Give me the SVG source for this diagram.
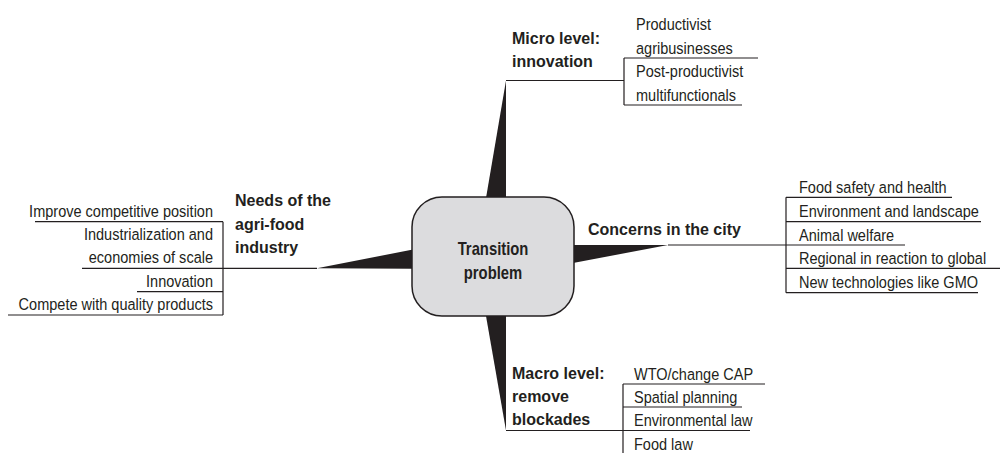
<svg xmlns="http://www.w3.org/2000/svg" width="1002" height="453" viewBox="0 0 1002 453">
  <style>
    .hub{fill:#dcdcde;stroke:#231f20;stroke-width:1.5}
    .hubtxt{font-family:"Liberation Sans",Arial,sans-serif;font-weight:bold;font-size:18.5px;fill:#231f20;text-anchor:middle}
    .lbl{font-family:"Liberation Sans",Arial,sans-serif;font-weight:bold;font-size:16px;fill:#231f20}
    .item{font-family:"Liberation Sans",Arial,sans-serif;font-size:16.5px;fill:#231f20}
    .r{text-anchor:end}
    .wedge{fill:#231f20}
    .ln{stroke:#231f20;stroke-width:1.2;fill:none}
  </style>
  <rect width="1002" height="453" fill="#ffffff"/>

  <!-- connectors: tapered spokes and bracket lines -->
  <g id="connectors">
    <path class="wedge" d="M506,80.5 L486,198 L506,198 Z"/>
    <path class="wedge" d="M486,316 L506,316 L506,430.5 Z"/>
    <path class="wedge" d="M317,268.3 L413,249.5 L413,268.8 Z"/>
    <path class="wedge" d="M668,245 L573,245 L573,263 Z"/>
    <!-- micro level -->
    <path class="ln" d="M506,80.5 H624 M624,58 V105 M624,58 H758 M624,105 H742"/>
    <!-- agri-food industry -->
    <path class="ln" d="M317,268.3 H82 M223,221.7 V315 M35,221.7 H223 M137,291.7 H223 M8,315 H223"/>
    <!-- concerns in the city -->
    <path class="ln" d="M668,245 H905 M786,197.3 V292.7 M786,197.3 H952 M786,221.7 H981 M786,268.3 H1000 M786,292.7 H978"/>
    <!-- macro level -->
    <path class="ln" d="M506,430.5 H750 M623,384 V453 M623,384 H765 M623,407 H742"/>
  </g>

  <g id="hub">
    <rect class="hub" x="412" y="197" width="162" height="119" rx="30" ry="30"/>
    <!-- narrow set: glyphs squeezed horizontally -->
    <text class="hubtxt" transform="matrix(0.8 0 0 1 493 255)">Transition</text>
    <text class="hubtxt" transform="matrix(0.8 0 0 1 493 278.5)">problem</text>
  </g>

  <g id="micro">
    <text class="lbl" x="512" y="43.5">Micro level:</text>
    <text class="lbl" x="512" y="66.5">innovation</text>
  </g>
  <g id="micro-items">
    <g id="productivist">
      <text class="item" transform="matrix(0.88 0 0 1 636 30)">Productivist</text>
      <text class="item" transform="matrix(0.88 0 0 1 636 53.5)">agribusinesses</text>
    </g>
    <g id="post-productivist">
      <text class="item" transform="matrix(0.88 0 0 1 636 77)">Post-productivist</text>
      <text class="item" transform="matrix(0.88 0 0 1 636 100.5)">multifunctionals</text>
    </g>
  </g>

  <g id="needs">
    <text class="lbl" x="235" y="206">Needs of the</text>
    <text class="lbl" x="235" y="229.5">agri-food</text>
    <text class="lbl" x="235" y="253">industry</text>
  </g>
  <g id="needs-items">
    <g id="competitive"><text class="item r" transform="matrix(0.88 0 0 1 213 216.7)">Improve competitive position</text></g>
    <g id="industrialization">
      <text class="item r" transform="matrix(0.88 0 0 1 213 239.5)">Industrialization and</text>
      <text class="item r" transform="matrix(0.88 0 0 1 213 263)">economies of scale</text>
    </g>
    <g id="innovation"><text class="item r" transform="matrix(0.88 0 0 1 213 286.5)">Innovation</text></g>
    <g id="quality"><text class="item r" transform="matrix(0.88 0 0 1 213 310)">Compete with quality products</text></g>
  </g>

  <g id="concerns">
    <text class="lbl" x="588" y="235">Concerns in the city</text>
  </g>
  <g id="concerns-items">
    <g id="food-safety"><text class="item" transform="matrix(0.88 0 0 1 799 192.8)">Food safety and health</text></g>
    <g id="environment"><text class="item" transform="matrix(0.88 0 0 1 799 217.2)">Environment and landscape</text></g>
    <g id="animal"><text class="item" transform="matrix(0.88 0 0 1 799 240.5)">Animal welfare</text></g>
    <g id="regional"><text class="item" transform="matrix(0.88 0 0 1 799 263.8)">Regional in reaction to global</text></g>
    <g id="technologies"><text class="item" transform="matrix(0.88 0 0 1 799 288.2)">New technologies like GMO</text></g>
  </g>

  <g id="macro">
    <text class="lbl" x="512" y="379">Macro level:</text>
    <text class="lbl" x="512" y="402">remove</text>
    <text class="lbl" x="512" y="425">blockades</text>
  </g>
  <g id="macro-items">
    <g id="wto"><text class="item" transform="matrix(0.88 0 0 1 634 379.5)">WTO/change CAP</text></g>
    <g id="spatial"><text class="item" transform="matrix(0.88 0 0 1 634 402.5)">Spatial planning</text></g>
    <g id="env-law"><text class="item" transform="matrix(0.88 0 0 1 634 426)">Environmental law</text></g>
    <g id="food-law"><text class="item" transform="matrix(0.88 0 0 1 634 449.5)">Food law</text></g>
  </g>
</svg>
